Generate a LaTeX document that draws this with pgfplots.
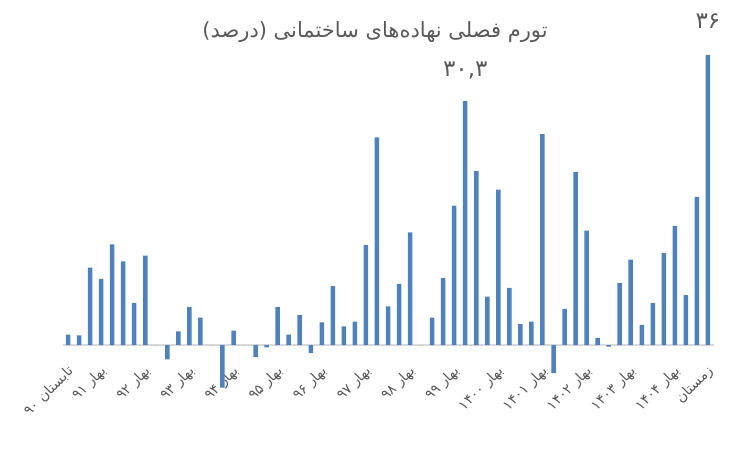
\documentclass[border=0pt]{standalone}
\usepackage{pgfplots}
\pgfplotsset{compat=1.18}
\usepackage{fontspec}
\newfontfamily\arabicfont[Script=Arabic]{DejaVu Sans}
\TeXXeTstate=1
\definecolor{barblue}{HTML}{4F81BD}
\definecolor{axgray}{HTML}{D9D9D9}
\definecolor{txtgray}{HTML}{595959}
\begin{document}
\begin{tikzpicture}
\path[use as bounding box] (0,0) rectangle (750pt,450pt);
\begin{axis}[
  at={(62.5pt,56.7pt)}, anchor=south west,
  scale only axis, width=651pt, height=354.2pt,
  xmin=-0.5, xmax=58.5, ymin=-6, ymax=38,
  axis x line=middle, axis y line=none,
  x axis line style={-, draw=axgray, line width=1.5pt},
  every inner x axis line/.append style={-},
  ytick=\empty,
  xtick={0,3,7,11,15,19,23,27,31,35,39,43,47,51,55,58},
  xticklabels={
    {\beginR تابستان ۹۰\endR},
    {\beginR بهار ۹۱\endR},
    {\beginR بهار ۹۲\endR},
    {\beginR بهار ۹۳\endR},
    {\beginR بهار ۹۴\endR},
    {\beginR بهار ۹۵\endR},
    {\beginR بهار ۹۶\endR},
    {\beginR بهار ۹۷\endR},
    {\beginR بهار ۹۸\endR},
    {\beginR بهار ۹۹\endR},
    {\beginR بهار ۱۴۰۰\endR},
    {\beginR بهار ۱۴۰۱\endR},
    {\beginR بهار ۱۴۰۲\endR},
    {\beginR بهار ۱۴۰۳\endR},
    {\beginR بهار ۱۴۰۴\endR},
    {\beginR زمستان\endR}},
  major tick length=0pt,
  xticklabel style={font=\arabicfont\fontsize{14}{16}\selectfont, text=txtgray, yshift=-24pt, xshift=3pt, rotate=45, anchor=east, inner sep=0pt},
  ybar, bar width=4.5pt,
  clip=false,
]
\addplot[fill=barblue, draw=none] coordinates {
(0,1.3) (1,1.2) (2,9.6) (3,8.2) (4,12.5) (5,10.4) (6,5.2) (7,11.1) (8,0) (9,-1.8)
(10,1.7) (11,4.7) (12,3.4) (13,0) (14,-5.3) (15,1.8) (16,0) (17,-1.5) (18,-0.3) (19,4.7)
(20,1.3) (21,3.7) (22,-1.0) (23,2.8) (24,7.3) (25,2.3) (26,2.9) (27,12.4) (28,25.8) (29,4.8)
(30,7.6) (31,14.0) (32,0) (33,3.4) (34,8.3) (35,17.3) (36,30.3) (37,21.6) (38,6.0) (39,19.3)
(40,7.1) (41,2.6) (42,2.9) (43,26.2) (44,-3.5) (45,4.5) (46,21.5) (47,14.2) (48,0.9) (49,-0.2)
(50,7.7) (51,10.6) (52,2.5) (53,5.2) (54,11.4) (55,14.8) (56,6.2) (57,18.4) (58,36)
};
\node[font=\arabicfont\fontsize{23}{26}\selectfont, text=txtgray] at (axis cs:36,30.3) [yshift=31pt] {۳۰,۳};
\node[font=\arabicfont\fontsize{23}{26}\selectfont, text=txtgray] at (axis cs:58,36) [yshift=34pt] {۳۶};
\end{axis}
\node[font=\arabicfont\fontsize{21}{24}\selectfont, text=txtgray] at (375pt,418pt) {\beginR تورم فصلی نهاده‌های ساختمانی (درصد)\endR};
\end{tikzpicture}
\end{document}
